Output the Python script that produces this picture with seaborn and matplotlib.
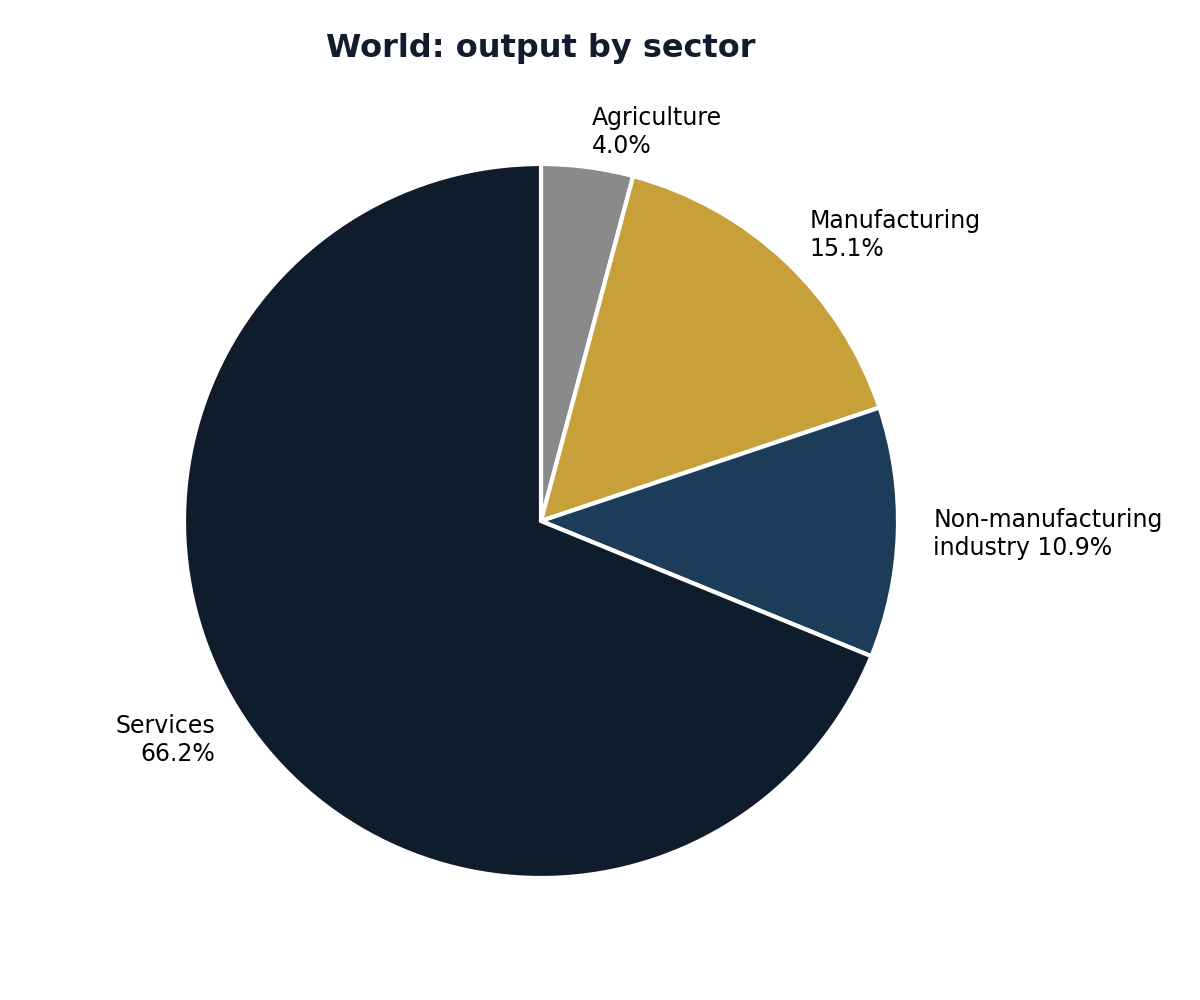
import matplotlib
matplotlib.use("Agg")
import matplotlib.pyplot as plt
import seaborn as sns

sectors = ["Agriculture", "Manufacturing", "Non-manufacturing\nindustry", "Services"]
shares = [4.0, 15.1, 10.9, 66.2]
colors = ["#8a8a8a", "#c8a03a", "#1d3c5a", "#0f1c2b"]

sns.set_theme(style="white")
plt.rcParams["font.family"] = ["DejaVu Sans"]

labels = []
for s, v in zip(sectors, shares):
    sep = " " if "\n" in s else "\n"
    labels.append(f"{s}{sep}{v:.1f}%")

fig = plt.figure(figsize=(12, 10), dpi=100)
ax = fig.add_axes([141 / 1200, 79 / 1000, 800 / 1200, 800 / 1000])
ax.pie(shares, labels=labels, colors=colors, startangle=90, counterclock=False,
       labeldistance=1.1, wedgeprops=dict(edgecolor="white", linewidth=3),
       textprops=dict(fontsize=17, color="black"))
lim = 400 / 357
ax.set_xlim(-lim, lim)
ax.set_ylim(-lim, lim)
ax.set_aspect("auto")
ax.axis("off")
fig.text(541 / 1200, 1 - 48 / 1000, "World: output by sector", ha="center", va="center",
         fontsize=23, fontweight="bold", color="#111d2c")
fig.savefig("out.png", dpi=100)
